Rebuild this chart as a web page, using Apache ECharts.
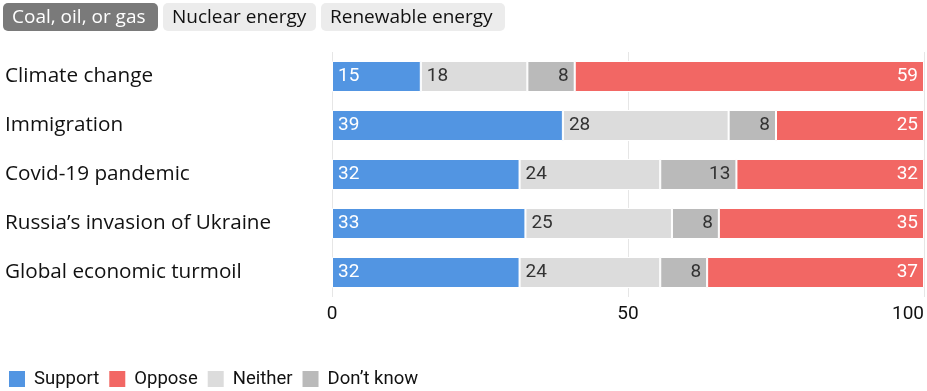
<!DOCTYPE html>
<html><head><meta charset="utf-8">
<script src="https://cdn.jsdelivr.net/npm/echarts@6/dist/echarts.min.js"></script>
<style>html,body{margin:0;padding:0;background:#fff}#c{width:927px;height:391px}</style>
</head><body><div id="c"></div>
<script>
const categories = ["Climate change", "Immigration", "Covid-19 pandemic", "Russia\u2019s invasion of Ukraine", "Global economic turmoil"];
const support  = [15, 39, 32, 33, 32];
const neither  = [18, 28, 24, 25, 24];
const dontKnow = [8, 8, 13, 8, 8];
const oppose   = [59, 25, 32, 35, 37];
const xTicks = [0, 50, 100];
const buttons = ["Coal, oil, or gas", "Nuclear energy", "Renewable energy"];

const FONT = 'Roboto';
const TFONT = '"Open Sans"';
const totals = support.map((v, i) => v + neither[i] + dontKnow[i] + oppose[i]);
function rows(arr) { return arr.map((v, i) => ({ value: v / totals[i] * 100, raw: v })); }

function mkSeries(name, arr, color, labelColor, pos) {
  return {
    name, type: 'bar', stack: 'all', barWidth: 31,
    data: rows(arr),
    itemStyle: { color, borderColor: '#fff', borderWidth: 1 },
    label: { show: true, position: pos, distance: 6, color: labelColor, fontFamily: FONT, fontSize: 19,
      formatter: p => p.data.raw },
    emphasis: { disabled: true }
  };
}

const chart = echarts.init(document.getElementById('c'));
const btnX = [3, 163, 321], btnW = [155, 153, 184];
const graphics = [];
buttons.forEach((b, i) => {
  graphics.push({ type: 'rect', left: btnX[i], top: 3, shape: { width: btnW[i], height: 28, r: 5 },
    style: { fill: i === 0 ? '#7a7a7a' : '#ececec' } });
  graphics.push({ type: 'text', left: btnX[i] + 9, top: 8,
    style: { text: b, fill: i === 0 ? '#fff' : '#111', font: '19px ' + TFONT } });
});

chart.setOption({
  animation: false,
  grid: { left: 332, right: 3, top: 52, height: 245 },
  graphic: graphics,
  legend: {
    left: 2, top: 364, itemWidth: 18, itemHeight: 18, itemGap: 8, icon: 'rect',
    data: ['Support', 'Oppose', 'Neither', 'Don\u2019t know'],
    textStyle: { fontFamily: FONT, fontSize: 18.5, color: '#111', padding: [0, 0, 0, 3] },
    selectedMode: false
  },
  xAxis: {
    type: 'value', min: 0, max: 100, interval: 50,
    axisLine: { show: false }, axisTick: { show: false },
    splitLine: { show: true, lineStyle: { color: '#e6e6e6', width: 1 } },
    axisLabel: { fontFamily: FONT, fontSize: 19, color: '#111', margin: 8, alignMaxLabel: 'right',
      formatter: v => xTicks.includes(v) ? String(v) : '' }
  },
  yAxis: {
    type: 'category', data: categories, inverse: true,
    axisLine: { show: false }, axisTick: { show: false },
    axisLabel: { align: 'left', margin: 327, fontFamily: TFONT, fontSize: 20.7, color: '#111' }
  },
  series: [
    mkSeries('Support', support, '#5295e2', '#fff', 'insideLeft'),
    mkSeries('Neither', neither, '#dcdcdc', '#333', 'insideLeft'),
    mkSeries('Don\u2019t know', dontKnow, '#bababa', '#333', 'insideRight'),
    mkSeries('Oppose', oppose, '#f26764', '#fff', 'insideRight')
  ]
});
</script></body></html>
